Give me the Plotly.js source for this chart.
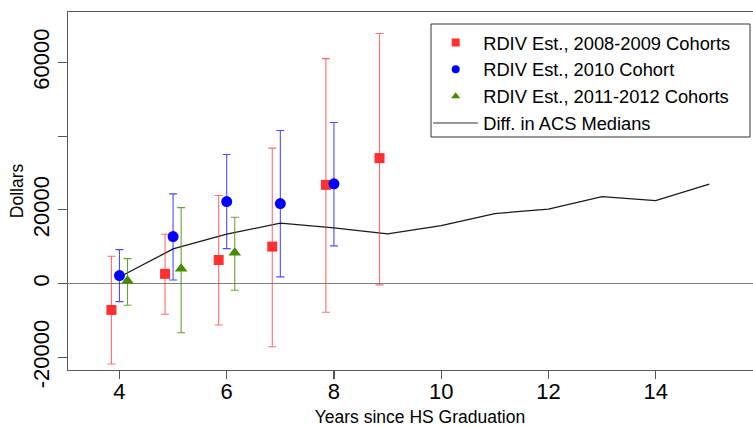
<!DOCTYPE html>
<html>
<head>
<meta charset="utf-8">
<script src="https://cdn.plot.ly/plotly-3.0.1.min.js"></script>
<style>
html,body{margin:0;padding:0;overflow:hidden;background:#fff;}
#chart{width:772px;height:427px;}
</style>
</head>
<body>
<div id="chart"></div>
<script>
// RDIV estimates, 2008-2009 cohorts (plotted slightly left of the year)
const redYears = [4, 5, 6, 7, 8, 9];
const redEst   = [-7140, 2650, 6400, 10040, 26780, 34030];
const redHi    = [7430, 13400, 23900, 36740, 61000, 67840];
const redLo    = [-21790, -8300, -11200, -17100, -7770, -350];

// RDIV estimates, 2010 cohort
const blueYears = [4, 5, 6, 7, 8];
const blueEst   = [2170, 12750, 22250, 21700, 27060];
const blueHi    = [9230, 24330, 35000, 41500, 43700];
const blueLo    = [-4880, 1000, 9500, 1820, 10230];

// RDIV estimates, 2011-2012 cohorts (plotted slightly right of the year)
const greenYears = [4, 5, 6];
const greenEst   = [810, 4000, 8400];
const greenHi    = [6780, 20600, 18000];
const greenLo    = [-5860, -13300, -1800];

// Difference in ACS medians
const acsYears  = [4, 5, 6, 7, 8, 9, 10, 11, 12, 13, 14, 15];
const acsMedian = [1800, 9400, 13400, 16400, 15100, 13500, 15700, 19000, 20200, 23600, 22500, 27000];

const seriesNames = ['RDIV Est., 2008-2009 Cohorts', 'RDIV Est., 2010 Cohort', 'RDIV Est., 2011-2012 Cohorts', 'Diff. in ACS Medians'];
const yTickVals = [-20000, 0, 20000, 40000, 60000];
const yTickText = ['-20000', '0', '20000', '', '60000'];
const xTickVals = [4, 6, 8, 10, 12, 14];

const FONT = 'Liberation Sans, Arial, sans-serif';
const dodge = 0.15;

function errTrace(years, shift, est, hi, lo, name, color, barColor, symbol, size) {
  return {
    type: 'scatter', mode: 'markers', name: name, showlegend: false,
    x: years.map(v => v + shift), y: est,
    marker: {color: color, symbol: symbol, size: size, line: {width: 0}},
    error_y: {type: 'data', symmetric: false,
      array: hi.map((h, i) => h - est[i]),
      arrayminus: lo.map((l, i) => est[i] - l),
      color: barColor, thickness: 1.1, width: 4}
  };
}
function legendOnly(name, color, symbol, size) {
  return {type: 'scatter', mode: 'markers', name: name, x: [null], y: [null],
    marker: {color: color, symbol: symbol, size: size}, hoverinfo: 'skip'};
}

const traces = [
  {type: 'scatter', mode: 'lines', name: seriesNames[3], x: acsYears, y: acsMedian,
   line: {color: '#1a1a1a', width: 1.3}, showlegend: false},
  errTrace(redYears, -dodge, redEst, redHi, redLo, seriesNames[0], '#FF3030', 'rgba(255,48,48,0.7)', 'square', 10),
  errTrace(blueYears, 0, blueEst, blueHi, blueLo, seriesNames[1], '#0000FF', 'rgba(0,0,255,0.7)', 'circle', 11),
  errTrace(greenYears, dodge, greenEst, greenHi, greenLo, seriesNames[2], '#458B00', 'rgba(69,139,0,0.8)', 'triangle-up', 11),
  legendOnly(seriesNames[0], '#FF3030', 'square', 8),
  legendOnly(seriesNames[1], '#0000FF', 'circle', 8),
  legendOnly(seriesNames[2], '#458B00', 'triangle-up', 8),
  {type: 'scatter', mode: 'lines', name: seriesNames[3], x: [null], y: [null],
   line: {color: '#777', width: 1.5}}
];

// plot area spans 68..772 px horizontally, 12..370 px vertically
const legendBox = {x0: (431 - 68) / 704, x1: (750 - 68) / 704, y0: (370 - 137) / 358, y1: (370 - 24) / 358};

const layout = {
  width: 772, height: 427,
  margin: {l: 68, r: 0, t: 12, b: 57},
  paper_bgcolor: '#fff', plot_bgcolor: '#fff',
  font: {family: FONT, color: '#000'},
  showlegend: true,
  xaxis: {
    range: [3.04, 16.17], showgrid: false, zeroline: false,
    showline: true, mirror: true, linecolor: '#555', linewidth: 1.3,
    ticks: 'outside', ticklen: 8, tickcolor: '#555', tickwidth: 1.2,
    tickvals: xTickVals, ticktext: xTickVals.map(String),
    tickfont: {size: 22, family: FONT, color: '#000'},
    ticklabelstandoff: -7,
    title: {text: 'Years since HS Graduation', font: {size: 17.5, family: FONT, color: '#000'}, standoff: 19}
  },
  yaxis: {
    range: [-23420, 73650], showgrid: false,
    zeroline: true, zerolinecolor: '#808080', zerolinewidth: 1.6,
    showline: true, mirror: true, linecolor: '#555', linewidth: 1.3,
    ticks: 'outside', ticklen: 9, tickcolor: '#555', tickwidth: 1.2,
    tickvals: yTickVals, ticktext: yTickText, tickangle: -90,
    tickfont: {size: 22, family: FONT, color: '#000'},
    title: {text: 'Dollars', font: {size: 17.5, family: FONT, color: '#000'}, standoff: 0}
  },
  shapes: [{type: 'rect', xref: 'paper', yref: 'paper',
    x0: legendBox.x0, x1: legendBox.x1, y0: legendBox.y0, y1: legendBox.y1,
    line: {color: '#333', width: 1}, fillcolor: '#fff', layer: 'above'}],
  legend: {
    x: legendBox.x0 - 0.004, y: 0.966, xanchor: 'left', yanchor: 'top',
    bgcolor: 'rgba(0,0,0,0)', borderwidth: 0,
    font: {size: 18.3, family: FONT, color: '#000'},
    tracegroupgap: 0, itemwidth: 45
  }
};

Plotly.newPlot('chart', traces, layout, {displayModeBar: false, staticPlot: true});
</script>
</body>
</html>
